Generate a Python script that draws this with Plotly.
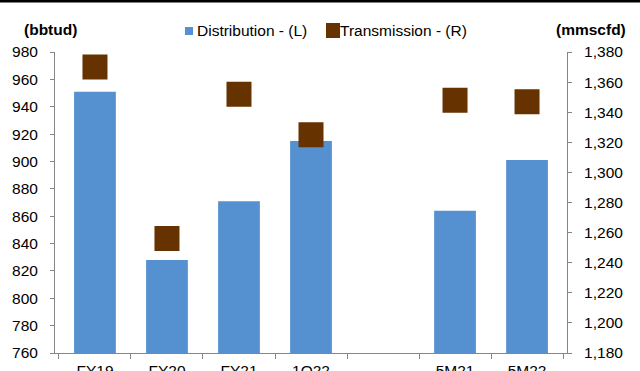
import plotly.graph_objects as go

categories = ["FY19", "FY20", "FY21", "1Q22", " ", "5M21", "5M22"]
distribution = [951, 828, 871, 915, None, 864, 901]
transmission = [1370, 1256, 1352, 1325, None, 1348, 1347]
legend_labels = ["Distribution - (L)", "Transmission - (R)"]

FONT = "Liberation Sans, Arial, sans-serif"
AX = "#868686"
BLUE = "#5591D0"
BROWN = "#663300"

L, R, T, B = 55, 73, 52, 18
W, H = 640, 371
PW, PH = W - L - R, H - T - B


def px_x(x):
    return (x - L) / PW


def px_y(y):
    return (H - B - y) / PH


fig = go.Figure()
fig.add_trace(go.Bar(
    x=categories, y=distribution, name=legend_labels[0],
    marker=dict(color=BLUE, line=dict(width=0)), width=0.58, yaxis="y",
))
fig.add_trace(go.Scatter(
    x=categories, y=transmission, name=legend_labels[1], mode="markers",
    marker=dict(symbol="square", size=23, color=BROWN,
                line=dict(color=BROWN, width=2)),
    yaxis="y2",
))

fig.update_layout(
    width=W, height=H,
    margin=dict(l=L, r=R, t=T, b=B, autoexpand=False),
    paper_bgcolor="white", plot_bgcolor="white",
    font=dict(family=FONT, size=15.5, color="#000000"),
    showlegend=False,
    xaxis=dict(type="category", categoryorder="array", categoryarray=categories,
               showline=True, linecolor=AX, linewidth=1, ticks="outside",
               tickson="boundaries", ticklen=5, tickcolor=AX, showgrid=False,
               automargin=False, ticklabelstandoff=3),
    yaxis=dict(range=[760, 980], dtick=20, showline=True, linecolor=AX, linewidth=1,
               ticks="outside", ticklen=4, tickcolor=AX, showgrid=False, zeroline=False,
               automargin=False, ticklabelstandoff=9),
    yaxis2=dict(range=[1180, 1380], dtick=20, overlaying="y", side="right",
                showline=True, linecolor=AX, linewidth=1, ticks="outside", ticklen=4,
                tickcolor=AX, showgrid=False, zeroline=False, tickformat=",",
                automargin=False, ticklabelstandoff=9),
)

# axis unit titles
fig.add_annotation(text="<b>(bbtud)</b>", xref="paper", yref="paper", x=px_x(50), y=px_y(29),
                   xanchor="center", yanchor="middle", showarrow=False, font=dict(size=15.5))
fig.add_annotation(text="<b>(mmscfd)</b>", xref="paper", yref="paper", x=px_x(591), y=px_y(29),
                   xanchor="center", yanchor="middle", showarrow=False, font=dict(size=15.5))

# manual legend
fig.add_shape(type="rect", xref="paper", yref="paper", x0=px_x(185), x1=px_x(193),
              y0=px_y(35), y1=px_y(27), fillcolor=BLUE, line=dict(width=0))
fig.add_annotation(text=legend_labels[0], xref="paper", yref="paper", x=px_x(195), y=px_y(30.5),
                   xanchor="left", yanchor="middle", showarrow=False, font=dict(size=15.5))
fig.add_shape(type="rect", xref="paper", yref="paper", x0=px_x(326), x1=px_x(340),
              y0=px_y(38), y1=px_y(23), fillcolor=BROWN, line=dict(width=0))
fig.add_annotation(text=legend_labels[1], xref="paper", yref="paper", x=px_x(338), y=px_y(30.5),
                   xanchor="left", yanchor="middle", showarrow=False, font=dict(size=15.5))

# black rule at the very top
fig.add_shape(type="rect", xref="paper", yref="paper", x0=px_x(0), x1=px_x(640),
              y0=px_y(2.5), y1=px_y(0), fillcolor="black", line=dict(width=0))

fig.write_html("out.html", config={"displayModeBar": False},
               post_script="document.body.style.margin='0';document.body.style.overflow='hidden';")
